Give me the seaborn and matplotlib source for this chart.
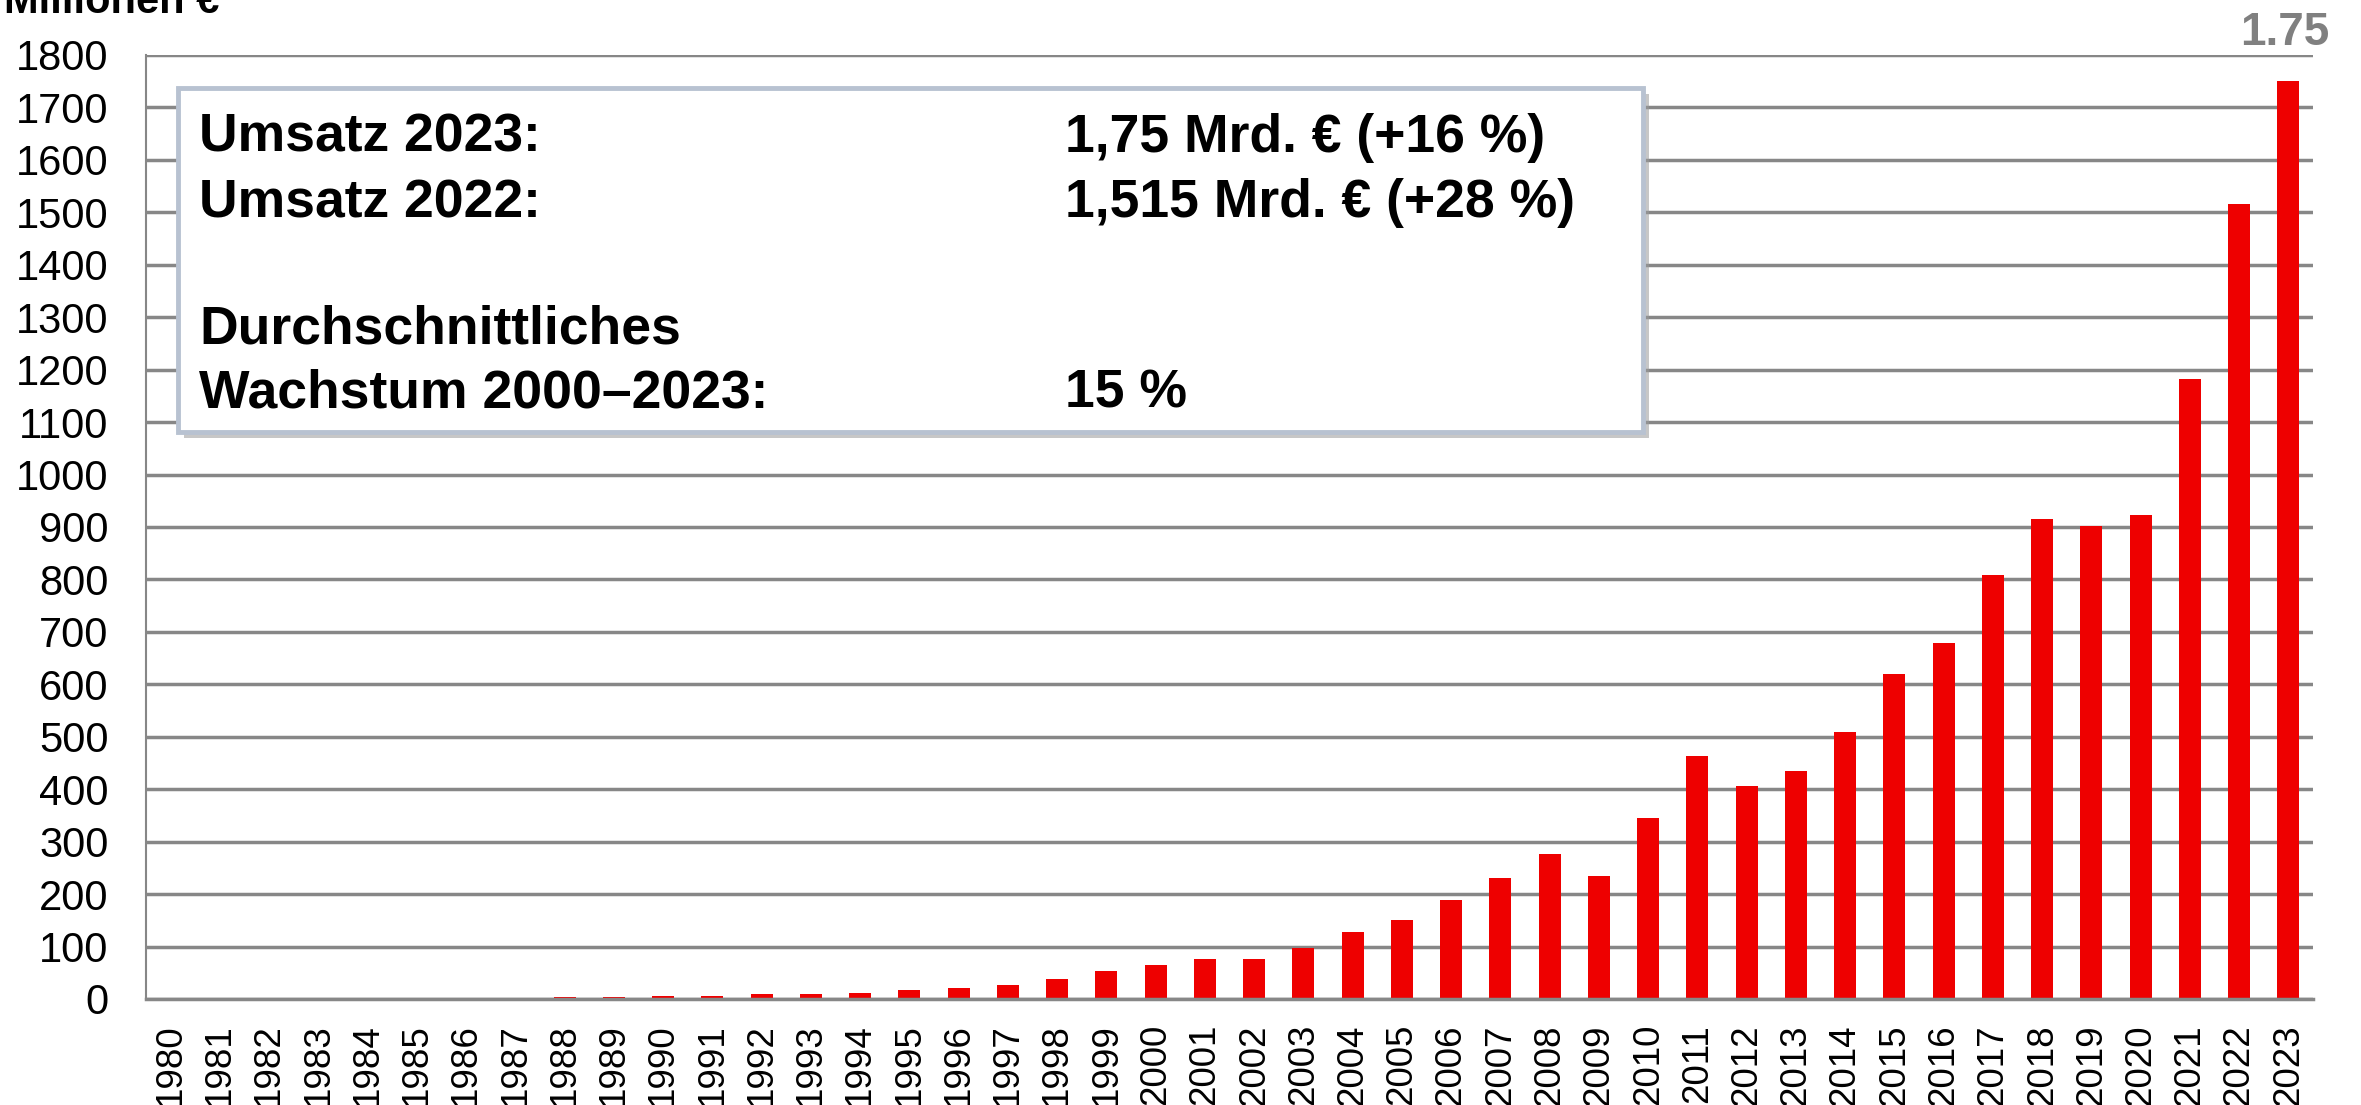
import numpy as np
import pandas as pd
import matplotlib
matplotlib.use("Agg")
import matplotlib.pyplot as plt
import seaborn as sns
from matplotlib.patches import Rectangle

# data (Millionen €)
years = list(range(1980, 2024))
umsatz = [0, 0, 0, 0, 0, 0.8, 1.5, 2, 3, 4,
          5, 6, 10, 10, 12, 17, 21, 26, 38, 54,
          65, 77, 77, 98, 128, 151, 189, 231, 277, 235,
          345, 464, 407, 435, 509, 620, 678, 809, 915, 902,
          922, 1182, 1515, 1750]
y_ticks = list(range(0, 1900, 100))

box_left = ["Umsatz 2023:", "Umsatz 2022:", "Durchschnittliches", "Wachstum 2000–2023:"]
box_right = ["1,75 Mrd. € (+16 %)", "1,515 Mrd. € (+28 %)", "", "15 %"]

W, H = 2361, 1105
GRID = "#878787"
RED = "#EE0000"

sns.set_style("white")
plt.rcParams["font.family"] = ["Liberation Sans", "DejaVu Sans"]
plt.rcParams["text.color"] = "black"
plt.rcParams["xtick.labelcolor"] = "black"
plt.rcParams["ytick.labelcolor"] = "black"


def fx(x):
    return x / W


def fy(y):
    return 1 - y / H


df = pd.DataFrame({"Jahr": [str(y) for y in years], "Umsatz": umsatz})

fig = plt.figure(figsize=(W / 100, H / 100), dpi=100)
ax = fig.add_axes([fx(146), fy(999), fx(2313) - fx(146), fy(55) - fy(999)])

sns.barplot(data=df, x="Jahr", y="Umsatz", color=RED, saturation=1,
            width=0.45, ax=ax, linewidth=0)

ax.set_xlim(-0.5, len(years) - 0.5)
ax.set_ylim(0, 1800)
ax.set_yticks(y_ticks)
ax.set_yticklabels([str(v) for v in y_ticks], fontsize=30)
ax.set_xticks(range(len(years)))
ax.set_xticklabels([str(y) for y in years], rotation=90, fontsize=26.5)
ax.set_xticks(np.arange(-0.5, len(years), 1), minor=True)
ax.tick_params(axis="x", which="major", length=0, pad=18)
ax.tick_params(axis="x", which="minor", length=8, width=1.5, color=GRID)
ax.tick_params(axis="y", length=9, width=2, color=GRID, pad=18)
ax.set_xlabel("")
ax.set_ylabel("")

ax.yaxis.grid(True, color=GRID, linewidth=2.5)
ax.set_axisbelow(True)
for side in ["top", "right"]:
    ax.spines[side].set_visible(False)
ax.spines["left"].set_color(GRID)
ax.spines["left"].set_linewidth(1.5)
ax.spines["bottom"].set_color(GRID)
ax.spines["bottom"].set_linewidth(2.5)

# unit label, cut off at the top edge as in the original
fig.text(fx(4), fy(13), "Millionen €", fontsize=30, fontweight="bold",
         va="baseline", ha="left")
# value label top right
fig.text(fx(2329), fy(45), "1.75", fontsize=33, fontweight="bold",
         color="#808080", va="baseline", ha="right")

# info box with shadow
bx0, by0, bx1, by1 = 178, 88, 1643, 432
shadow = Rectangle((fx(bx0 + 6), fy(by1 + 6)), fx(bx1) - fx(bx0), fy(by0) - fy(by1),
                   transform=fig.transFigure, facecolor="#9a9a9a", alpha=0.55,
                   edgecolor="none", zorder=5)
box = Rectangle((fx(bx0), fy(by1)), fx(bx1) - fx(bx0), fy(by0) - fy(by1),
                transform=fig.transFigure, facecolor="white",
                edgecolor="#b8c2d1", linewidth=3.5, zorder=6)
fig.add_artist(shadow)
fig.add_artist(box)

baselines = [152, 217, 343, 408]
for left, right, yb in zip(box_left, box_right, baselines):
    fig.text(fx(199), fy(yb), left, fontsize=38.5, fontweight="bold",
             va="baseline", ha="left", zorder=7)
    if right:
        fig.text(fx(1065), fy(yb), right, fontsize=38.5, fontweight="bold",
                 va="baseline", ha="left", zorder=7)

fig.savefig("out.png", dpi=100)
